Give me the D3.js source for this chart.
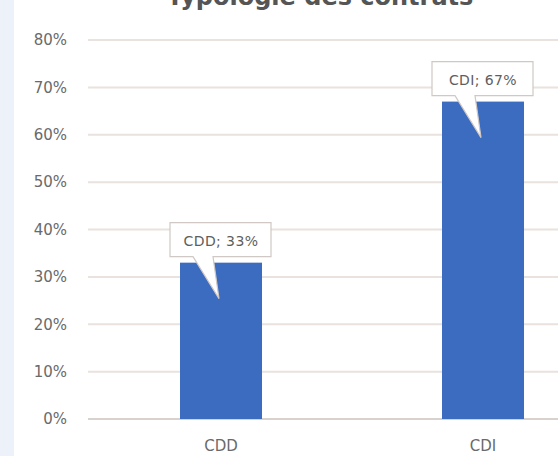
<!DOCTYPE html>
<html>
<head>
<meta charset="utf-8">
<script src="https://cdn.jsdelivr.net/npm/d3@7"></script>
<style>
  body { margin: 0; background: #fff; }
  svg text { font-family: "DejaVu Sans", sans-serif; fill: #6a6a6a; }
</style>
</head>
<body>
<script>
    var width = 558, height = 456;

    // chart data
    var categories = ["CDD", "CDI"];
    var values = [0.33, 0.67];
    var labels = ["CDD; 33%", "CDI; 67%"];
    var yTicks = [0, 0.1, 0.2, 0.3, 0.4, 0.5, 0.6, 0.7, 0.8];
    var title = "Typologie des contrats";

    var svg = d3.select("body")
        .append("svg").attr("width", width).attr("height", height);

    // pale blue strip on the left edge
    svg.append("rect")
        .attr("x", 0).attr("y", 0)
        .attr("width", 14).attr("height", height)
        .style("fill", "#edf2fa");

    var x = d3.scaleBand()
        .domain(categories)
        .range([90, 614])
        .paddingInner(0.687)
        .paddingOuter(0.3435);

    var y = d3.scaleLinear()
        .domain([0, 0.8])
        .range([419, 40]);

    // gridlines
    svg.append("g").attr("class", "grid")
        .selectAll("line").data(yTicks).enter()
        .append("line")
        .attr("x1", 88).attr("x2", width)
        .attr("y1", function(d){ return y(d); })
        .attr("y2", function(d){ return y(d); })
        .style("stroke", function(d){ return d === 0 ? "#d8d1cd" : "#e9e2de"; })
        .style("stroke-width", 2);

    // y axis labels
    var yAxis = d3.axisLeft(y)
        .tickValues(yTicks)
        .tickFormat(d3.format(".0%"))
        .tickSize(0).tickPadding(0);

    var ga = svg.append("g")
        .attr("transform", "translate(67,0)")
        .call(yAxis);
    ga.select(".domain").remove();
    ga.selectAll("text")
        .style("font-size", "15px")
        .style("fill", "#6a6a6a")
        .style("font-family", "DejaVu Sans, sans-serif");

    // bars
    svg.selectAll(".bar").data(values).enter()
        .append("rect").attr("class", "bar")
        .attr("x", function(d, i){ return x(categories[i]); })
        .attr("y", function(d){ return y(d); })
        .attr("width", x.bandwidth())
        .attr("height", function(d){ return y(0) - y(d); })
        .style("fill", "#3b6cbf");

    // x axis labels
    var xAxis = d3.axisBottom(x).tickSize(0).tickPadding(0);
    var gx = svg.append("g")
        .attr("transform", "translate(0,440)")
        .call(xAxis);
    gx.select(".domain").remove();
    gx.selectAll("text")
        .style("font-size", "15px")
        .style("fill", "#6a6a6a")
        .style("font-family", "DejaVu Sans, sans-serif");

    // data label callouts
    function callout(d, i) {
        var cx = x(categories[i]) + x.bandwidth() / 2;
        var top = y(d);
        var l = cx - 51, r = cx + 50, t = top - 40, b = top - 6;
        return "M" + l + "," + t + "L" + r + "," + t + "L" + r + "," + b +
            "L" + (cx - 8) + "," + b + "L" + (cx - 2) + "," + (top + 36) +
            "L" + (cx - 28) + "," + b + "L" + l + "," + b + "Z";
    }

    var co = svg.selectAll(".callout").data(values).enter()
        .append("g").attr("class", "callout");

    co.append("path")
        .attr("d", callout)
        .style("fill", "#fff")
        .style("stroke", "#cfc8c4")
        .style("stroke-width", 1.2);

    co.append("text")
        .attr("x", function(d, i){ return x(categories[i]) + x.bandwidth() / 2; })
        .attr("y", function(d){ return y(d) - 17; })
        .attr("text-anchor", "middle")
        .style("font-size", "14px")
        .style("letter-spacing", "0.4px")
        .style("fill", "#5e5e5e")
        .text(function(d, i){ return labels[i]; });

    // title, mostly cut off at the top as in the source image
    svg.append("text")
        .attr("x", 320)
        .attr("y", 5)
        .attr("text-anchor", "middle")
        .style("font-size", "24px")
        .style("font-weight", "bold")
        .style("fill", "#555")
        .text(title);
</script>
</body>
</html>
